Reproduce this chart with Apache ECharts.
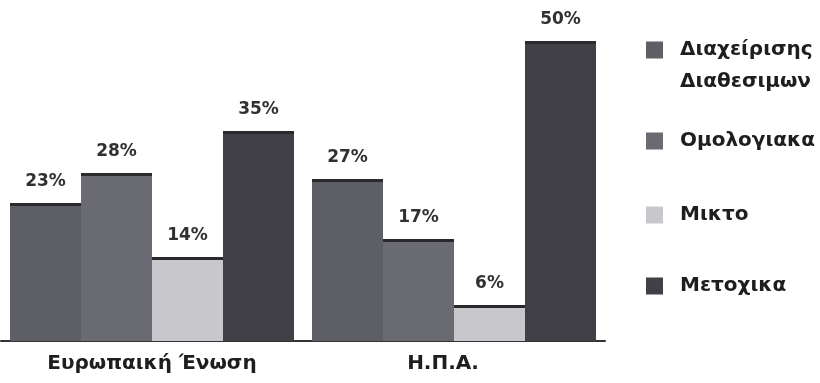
<!DOCTYPE html>
<html>
<head>
<meta charset="utf-8">
<script src="https://cdn.jsdelivr.net/npm/echarts@6/dist/echarts.min.js"></script>
<style>html,body{margin:0;padding:0;background:#fff}#c{width:820px;height:383px}</style>
</head>
<body>
<div id="c"></div>
<script>
const categories = ['Ευρωπαική Ένωση', 'Η.Π.Α.'];
const seriesNames = ['Διαχείρισης Διαθεσιμων', 'Ομολογιακα', 'Μικτο', 'Μετοχικα'];
const diaxeirisiValues = [23, 27];
const omologiakaValues = [28, 17];
const miktoValues = [14, 6];
const metoxikaValues = [35, 50];

const seriesValues = [diaxeirisiValues, omologiakaValues, miktoValues, metoxikaValues];
const colors = ['#5e5e66', '#6a6a72', '#c8c8cc', '#404046'];
const topBand = '#2a2a2e';
const GRID_TOP = 11, GRID_BOTTOM = 42, Y_MAX = 55;
const pxPerUnit = (383 - GRID_TOP - GRID_BOTTOM) / Y_MAX;

function itemData(values, color) {
  return values.map(v => {
    const off = Math.min(0.5, 3 / (v * pxPerUnit));
    return {
      value: v,
      itemStyle: {
        color: new echarts.graphic.LinearGradient(0, 0, 0, 1, [
          {offset: 0, color: topBand}, {offset: off, color: topBand},
          {offset: off, color: color}, {offset: 1, color: color}
        ])
      }
    };
  });
}

const font = 'DejaVu Sans';
const series = seriesNames.map((name, i) => ({
  name: name,
  type: 'bar',
  barWidth: 71,
  barGap: '0%',
  itemStyle: {color: colors[i]},
  label: {
    show: true, position: 'top', distance: 13,
    formatter: '{c}%', fontFamily: font, fontWeight: 'bold', fontSize: 17, color: '#303030'
  },
  data: itemData(seriesValues[i], colors[i])
}));

function legend(name, top, extra) {
  return Object.assign({
    data: [name], left: 646, top: top, orient: 'vertical', padding: 0,
    icon: 'rect', itemWidth: 17, itemHeight: 17, selectedMode: false,
    textStyle: {fontFamily: font, fontWeight: 'bold', fontSize: 20, color: '#1e1e1e', lineHeight: 22, padding: [0, 0, 0, 12]}
  }, extra || {});
}

const catData = categories.map((c, i) => i === 1 ? {value: c, textStyle: {padding: [0, 22, 0, 0]}} : c);

const chart = echarts.init(document.getElementById('c'), null, {renderer: 'canvas'});
chart.setOption({
  animation: false,
  backgroundColor: '#ffffff',
  grid: {left: 1, right: 215, top: GRID_TOP, bottom: GRID_BOTTOM, containLabel: false},
  xAxis: {
    type: 'category', data: catData,
    axisLine: {show: true, lineStyle: {color: '#333', width: 2}},
    axisTick: {show: false},
    axisLabel: {fontFamily: font, fontWeight: 'bold', fontSize: 20, color: '#1e1e1e', margin: 13}
  },
  yAxis: {type: 'value', min: 0, max: Y_MAX, show: false, splitLine: {show: false}},
  legend: [
    legend(seriesNames[0], 2, {
      formatter: n => '\n' + n.replace(' ', '\n'),
      textStyle: {fontFamily: font, fontWeight: 'bold', fontSize: 20, color: '#1e1e1e', lineHeight: 32, padding: [0, 0, 0, 12]}
    }),
    legend(seriesNames[1], 130),
    legend(seriesNames[2], 204),
    legend(seriesNames[3], 275)
  ],
  series: series
});
</script>
</body>
</html>
